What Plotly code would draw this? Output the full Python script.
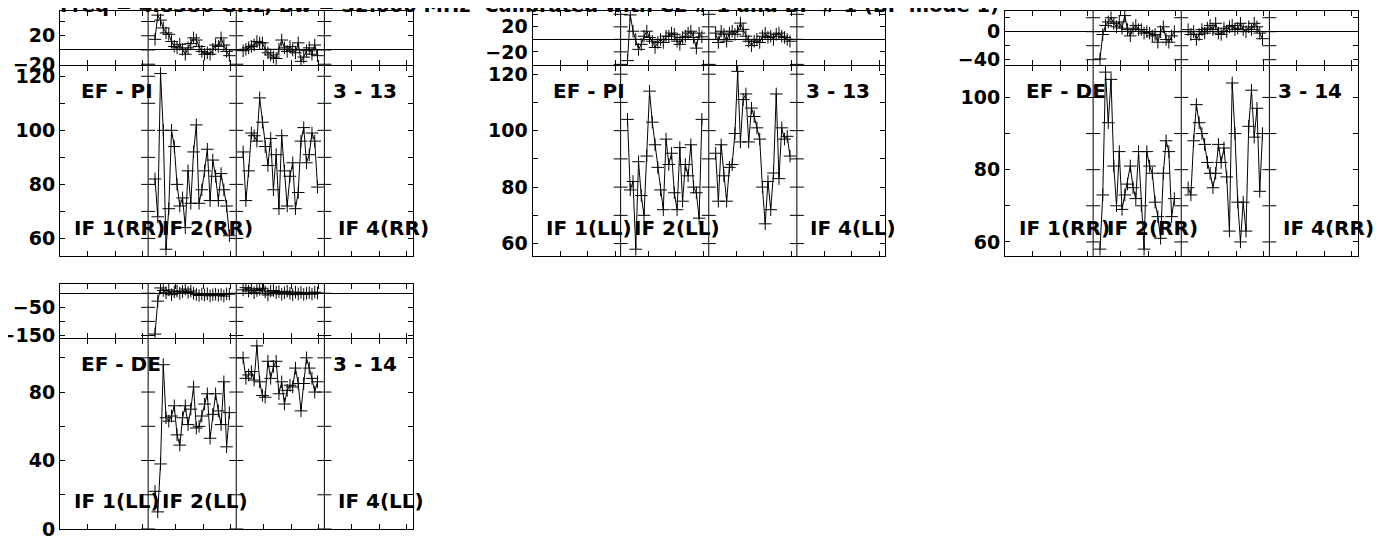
import plotly.graph_objects as go

FIG_W, FIG_H = 1391, 540

# ---------------- data ----------------
channels = list(range(3, 31))          # plotted channels in each IF
channels_per_if = 32
plotted_ifs = [2, 3]
labelled_ifs = [1, 2, 4]
x_tick_offsets = [10, 20, 30]

title_text = "Freq = 4.8380 GHz, Bw = 32.000 MHz  Calibrated with CL # 1 and BP # 1 (BP mode 1)"

baseline_names = ["EF - PI", "EF - PI", "EF - DE", "EF - DE"]
antenna_numbers = ["3 - 13", "3 - 13", "3 - 14", "3 - 14"]
polarizations = ["RR", "LL", "RR", "LL"]

# panel 1 : EF - PI  RR
phase_p1_if2 = [15, 49, 42, 31, 24, 22, 12, 5, 3, 8, 1, -6, 3, 9, 17, 14, 5, -2, -6, -4, -6, 1, 7, 5, 17, 7, -2, -8]
phase_p1_if3 = [-1, 1, 3, 5, 7, 12, 10, 10, 1, -4, -7, -10, -12, 1, 14, 3, -2, 5, 0, -4, 10, -16, -10, -1, 3, -6, 7, -8]
amp_p1_if2 = [82, 68, 121, 100, 56, 71, 100, 94, 80, 72, 75, 64, 85, 73, 92, 102, 73, 78, 85, 93, 74, 89, 83, 74, 84, 78, 72, 61]
amp_p1_if3 = [92, 74, 85, 99, 98, 96, 112, 103, 94, 87, 97, 78, 91, 71, 98, 85, 72, 83, 88, 71, 77, 96, 101, 88, 91, 99, 96, 79]

# panel 2 : EF - PI  LL
phase_p2_if2 = [-34, 39, 13, 0, -16, -8, 5, 13, 3, -3, -13, -5, 0, -5, 5, 5, 10, 8, -3, -8, 3, 5, 10, 13, 3, -14, 10, 4]
phase_p2_if3 = [10, -5, 13, 8, -3, 10, 13, 8, 13, 26, 16, 5, -3, -10, -3, 0, -5, 5, 10, 3, 5, 0, 8, 10, 5, 3, 0, -3]
amp_p2_if2 = [104, 79, 82, 58, 89, 77, 70, 91, 114, 103, 95, 87, 79, 72, 97, 88, 92, 78, 72, 94, 75, 88, 84, 95, 80, 78, 69, 104]
amp_p2_if3 = [92, 75, 95, 84, 75, 87, 88, 99, 121, 96, 111, 113, 96, 108, 105, 101, 97, 80, 67, 82, 72, 85, 113, 83, 101, 97, 98, 91]

# panel 3 : EF - DE  RR
phase_p3_if2 = [-39, -4, 9, 14, 20, 12, 7, 14, 5, 23, 3, -6, 5, 9, 3, 3, -2, 0, -2, -6, -4, -15, 0, 7, -11, -15, -6, 0]
phase_p3_if3 = [3, -4, 0, -11, -4, 3, -2, 5, 9, 3, 12, -2, -4, 5, 0, 7, 9, 3, 5, 12, 3, 0, 7, 3, 12, 7, -2, -10]
amp_p3_if2 = [58, 73, 107, 93, 105, 81, 70, 85, 69, 73, 76, 81, 75, 72, 85, 70, 58, 85, 81, 79, 71, 67, 61, 79, 88, 85, 67, 72]
amp_p3_if3 = [75, 73, 88, 98, 93, 90, 87, 82, 79, 75, 79, 87, 82, 86, 78, 63, 104, 90, 71, 60, 71, 63, 92, 102, 89, 97, 74, 90]

# panel 4 : EF - DE  LL
phase_p4_if2 = [-145, -28, 19, 10, 2, 12, -5, 5, 8, 0, 6, 15, 3, 8, 0, -4, -8, -3, -6, -2, -9, -5, -3, -7, -4, -10, -2, -3]
phase_p4_if3 = [12, 20, 8, 16, 2, 10, 14, 18, 5, -6, 8, 10, 3, 6, -3, 2, 7, 0, -5, 4, -2, 3, -4, 0, 2, -3, 4, 1]
amp_p4_if2 = [22, 10, 38, 96, 65, 63, 66, 72, 55, 49, 65, 72, 61, 70, 83, 59, 60, 66, 73, 79, 53, 67, 79, 69, 61, 86, 48, 68]
amp_p4_if3 = [100, 88, 90, 92, 87, 107, 86, 78, 77, 98, 88, 95, 98, 79, 86, 73, 81, 84, 83, 94, 85, 69, 85, 100, 94, 88, 80, 86]

phase_data = [[phase_p1_if2, phase_p1_if3], [phase_p2_if2, phase_p2_if3],
              [phase_p3_if2, phase_p3_if3], [phase_p4_if2, phase_p4_if3]]
amp_data = [[amp_p1_if2, amp_p1_if3], [amp_p2_if2, amp_p2_if3],
            [amp_p3_if2, amp_p3_if3], [amp_p4_if2, amp_p4_if3]]

# ---------------- axis styling ----------------
phase_specs = [
    dict(range=[-21.1, 54.8], dtick=40, tick0=-20, minor=20),
    dict(range=[-41.0, 45.3], dtick=40, tick0=-20, minor=20),
    dict(range=[-47.6, 29.6], dtick=40, tick0=0, minor=20),
    dict(range=[-159, 33], dtick=100, tick0=-50, minor=50),
]
amp_specs = [
    dict(range=[53.5, 123.8], dtick=20, tick0=0, minor=10),
    dict(range=[55.6, 122.9], dtick=20, tick0=0, minor=10),
    dict(range=[56.1, 108.7], dtick=20, tick0=0, minor=10),
    dict(range=[0, 111], dtick=40, tick0=0, minor=20),
]

# panel geometry (figure pixels; the page adds an 8 px body margin)
col_left = [52, 524.5, 997, 52]
panel_w = 352.5
# (phase top, phase bottom, amp top, amp bottom)
rows = [(3, 57, 58, 248), (3, 57, 58, 248), (3, 57, 58, 248), (276, 330, 331, 521)]

FONT = "DejaVu Sans"
font_b = dict(family=FONT, size=20, color="black", weight="bold")
font_tick = dict(family=FONT, size=19, color="black", weight="bold")
font_title = dict(family=FONT, size=19.5, color="black", weight="bold")

n_if = 4
x_total = channels_per_if * n_if
dividers = [channels_per_if * k for k in range(1, n_if)]
x_ticks = [channels_per_if * k + o for k in range(n_if) for o in x_tick_offsets]


def xdom(left):
    return [left / FIG_W, (left + panel_w) / FIG_W]


def ydom(top, bot):
    return [1 - bot / FIG_H, 1 - top / FIG_H]


def tick_values(spec):
    lo, hi = spec["range"]
    step = spec["minor"]
    v = spec["tick0"]
    while v - step >= lo - 1e-9:
        v -= step
    out = []
    while v <= hi + 1e-9:
        if v >= lo - 1e-9:
            out.append(v)
        v += step
    return out


fig = go.Figure()
layout = dict(
    width=FIG_W, height=FIG_H,
    margin=dict(l=0, r=0, t=0, b=0, pad=0, autoexpand=False),
    paper_bgcolor="white", plot_bgcolor="white",
    showlegend=False,
    shapes=[], annotations=[],
)

line_style = dict(color="black", width=1)
marker_style = dict(symbol="cross-thin", size=9, color="black",
                    line=dict(color="black", width=1))

for p in range(4):
    ptop, pbot, atop, abot = rows[p]
    for kind, spec, data, (yt, yb) in (
        ("phase", phase_specs[p], phase_data[p], (ptop, pbot)),
        ("amp", amp_specs[p], amp_data[p], (atop, abot)),
    ):
        n = 2 * p + (1 if kind == "phase" else 2)
        xa = "x" if n == 1 else f"x{n}"
        ya = "y" if n == 1 else f"y{n}"
        xkey = "xaxis" if n == 1 else f"xaxis{n}"
        ykey = "yaxis" if n == 1 else f"yaxis{n}"

        layout[xkey] = dict(
            domain=xdom(col_left[p]), range=[0, x_total], anchor=ya,
            showline=True, linecolor="black", linewidth=1, mirror="ticks",
            ticks="inside", ticklen=5, tickwidth=1, tickcolor="black",
            tickmode="array", tickvals=x_ticks, showticklabels=False,
            showgrid=False, zeroline=False, fixedrange=True, automargin=False,
        )
        layout[ykey] = dict(
            domain=ydom(yt, yb), range=spec["range"], anchor=xa,
            showline=True, linecolor="black", linewidth=1, mirror="ticks",
            ticks="inside", ticklen=5, tickwidth=1, tickcolor="black",
            tickmode="linear", tick0=spec["tick0"], dtick=spec["dtick"],
            minor=dict(dtick=spec["minor"], tick0=spec["tick0"], ticks="inside",
                       ticklen=5, tickwidth=1, tickcolor="black", showgrid=False),
            tickfont=font_tick, ticklabelstandoff=0, automargin=False,
            showgrid=False, fixedrange=True,
            zeroline=(kind == "phase"), zerolinecolor="black", zerolinewidth=1,
        )

        for ifn, vals in zip(plotted_ifs, data):
            xs = [(ifn - 1) * channels_per_if + c - 0.5 for c in channels]
            fig.add_trace(go.Scatter(
                x=xs, y=vals, xaxis=xa, yaxis=ya, mode="lines+markers",
                line=line_style, marker=marker_style, hoverinfo="skip",
            ))

        # IF divider lines
        for d in dividers:
            layout["shapes"].append(dict(
                type="line", xref=xa, yref=f"{ya} domain", x0=d, x1=d, y0=0, y1=1,
                line=dict(color="black", width=1), layer="above",
            ))
        # y ticks drawn across the divider lines
        tv = tick_values(spec)
        fig.add_trace(go.Scatter(
            x=[d for d in dividers for _ in tv], y=[v for _ in dividers for v in tv],
            xaxis=xa, yaxis=ya, mode="markers", hoverinfo="skip",
            marker=dict(symbol="line-ew", size=10, color="black",
                        line=dict(color="black", width=1)),
        ))

        if kind == "amp":
            ann = layout["annotations"]
            ann.append(dict(text=baseline_names[p], xref=xa, yref=f"{ya} domain",
                            x=6.8, y=0.87, xanchor="left", yanchor="middle",
                            showarrow=False, font=font_b))
            ann.append(dict(text=antenna_numbers[p], xref=xa, yref=f"{ya} domain",
                            x=3 * channels_per_if + 2.5, y=0.87, xanchor="left",
                            yanchor="middle", showarrow=False, font=font_b))
            for ifn in labelled_ifs:
                ann.append(dict(text=f"IF {ifn}({polarizations[p]})", xref=xa,
                                yref=f"{ya} domain",
                                x=(ifn - 1) * channels_per_if + 4.2, y=0.15,
                                xanchor="left", yanchor="middle",
                                showarrow=False, font=font_b))

layout["annotations"].append(dict(
    text=title_text, xref="paper", yref="paper", x=50 / FIG_W, y=1 - 11 / FIG_H,
    xanchor="left", yanchor="bottom", showarrow=False, font=font_title,
))

fig.update_layout(**layout)
fig.write_html("out.html")
